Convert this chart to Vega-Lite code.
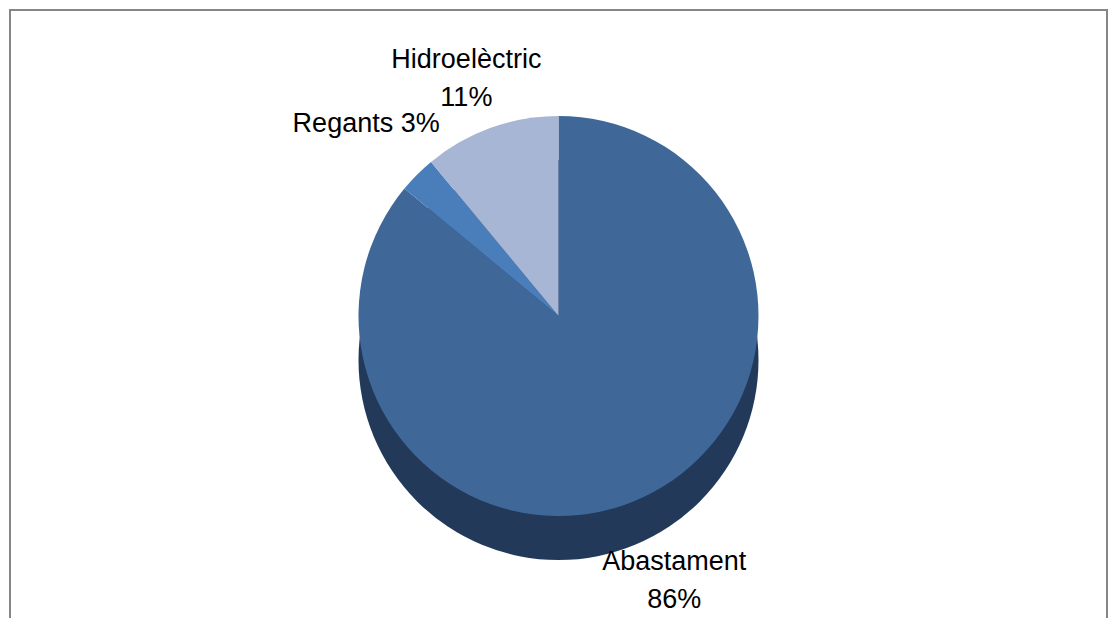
{
  "$schema": "https://vega.github.io/schema/vega-lite/v6.json",
  "width": 1111,
  "height": 618,
  "autosize": {"type": "fit", "contains": "padding"},
  "padding": {"left": 10, "top": 10, "right": 4, "bottom": -4},
  "background": "white",
  "view": {"stroke": "#868686", "strokeWidth": 2, "fill": "white"},
  "config": {"view": {"stroke": "#868686", "strokeWidth": 2}},
  "datasets": {
    "ús": [
      {"categoria": "Abastament", "percentatge": 86, "ordre": 1, "etiqueta": "Abastament\n86%"},
      {"categoria": "Regants", "percentatge": 3, "ordre": 2, "etiqueta": "Regants 3%"},
      {"categoria": "Hidroelèctric", "percentatge": 11, "ordre": 3, "etiqueta": "Hidroelèctric\n11%"}
    ]
  },
  "layer": [
    {
      "data": {"values": [{"total": 100}]},
      "mark": {"type": "arc", "outerRadius": 200, "yOffset": 44, "color": "#22395a"},
      "encoding": {"theta": {"field": "total", "type": "quantitative"}}
    },
    {
      "data": {"name": "ús"},
      "mark": {"type": "arc", "outerRadius": 200},
      "encoding": {
        "theta": {"field": "percentatge", "type": "quantitative", "stack": true},
        "order": {"field": "ordre", "type": "quantitative"},
        "color": {
          "field": "categoria", "type": "nominal",
          "scale": {"domain": ["Abastament", "Regants", "Hidroelèctric"], "range": ["#3f6899", "#4a7ebb", "#a7b6d4"]},
          "legend": null
        }
      }
    },
    {
      "data": {"name": "ús"},
      "mark": {"type": "text", "radius": 272, "font": "Liberation Sans", "fontSize": 27, "color": "black", "lineBreak": "\n", "lineHeight": 38},
      "encoding": {
        "theta": {"field": "percentatge", "type": "quantitative", "stack": true},
        "order": {"field": "ordre", "type": "quantitative"},
        "text": {"field": "etiqueta", "type": "nominal"}
      }
    }
  ]
}
